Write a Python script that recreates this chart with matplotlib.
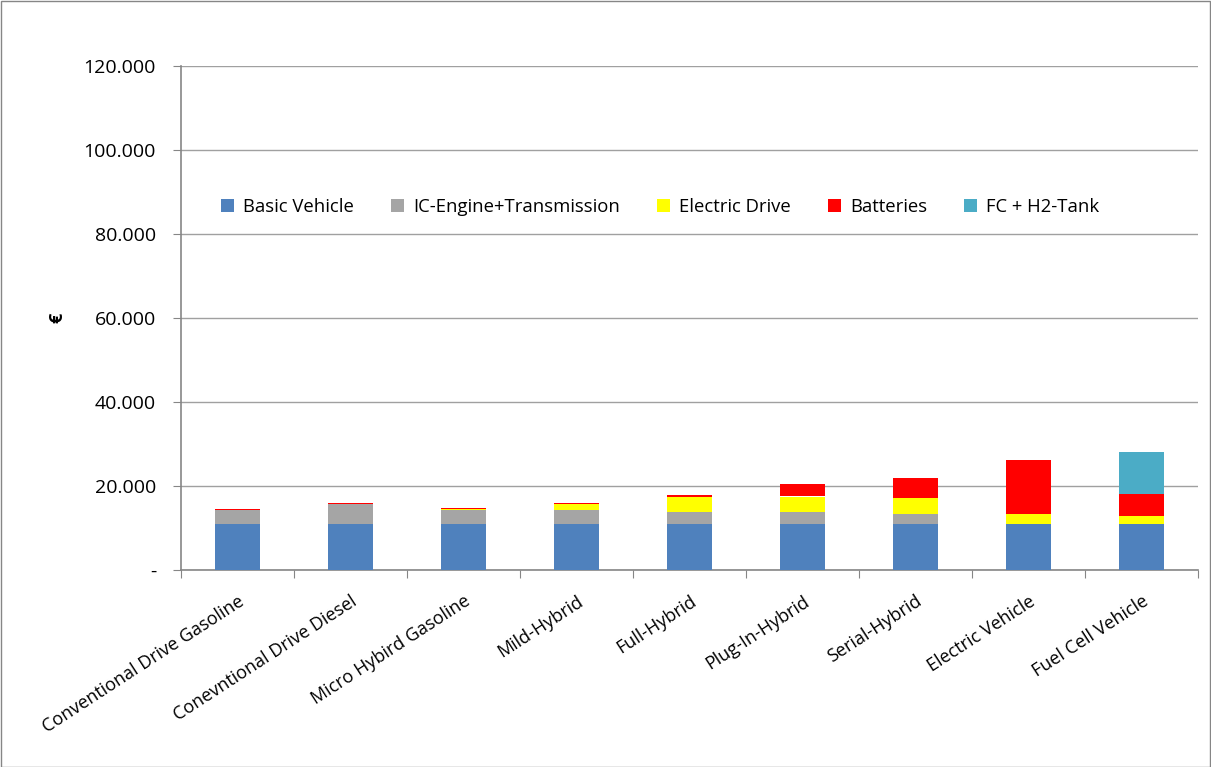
import numpy as np
import matplotlib.pyplot as plt
from matplotlib.ticker import FuncFormatter, MultipleLocator, FixedLocator

plt.rcParams['font.family'] = ['Open Sans', 'DejaVu Sans']

categories = ['Conventional Drive Gasoline', 'Conevntional Drive Diesel',
              'Micro Hybird Gasoline', 'Mild-Hybrid', 'Full-Hybrid',
              'Plug-In-Hybrid', 'Serial-Hybrid', 'Electric Vehicle',
              'Fuel Cell Vehicle']

basic_vehicle = [10900, 10900, 10900, 10900, 10900, 10900, 10900, 10900, 10900]
ic_engine = [3300, 4750, 3500, 3350, 2850, 2850, 2550, 0, 0]
electric_drive = [0, 0, 200, 1450, 3600, 3750, 3600, 2550, 1900]
batteries = [400, 350, 200, 330, 480, 2900, 4950, 12750, 5300]
fc_tank = [0, 0, 0, 0, 0, 0, 0, 0, 10000]

series = [
    ('Basic Vehicle', basic_vehicle, '#4f81bd'),
    ('IC-Engine+Transmission', ic_engine, '#a5a5a5'),
    ('Electric Drive', electric_drive, '#ffff00'),
    ('Batteries', batteries, '#ff0000'),
    ('FC + H2-Tank', fc_tank, '#4bacc6'),
]

fig = plt.figure(figsize=(12.11, 7.67), dpi=100)
ax = fig.add_axes([181 / 1211, 1 - 570 / 767, (1198 - 181) / 1211, (570 - 66) / 767])

x = np.arange(len(categories))
bottom = np.zeros(len(categories))
for name, vals, col in series:
    ax.bar(x, vals, 0.4, bottom=bottom, color=col, label=name,
           linewidth=0, zorder=3)
    bottom += np.array(vals)

ax.set_xlim(-0.5, len(categories) - 0.5)
ax.set_ylim(0, 120000)
ax.yaxis.set_major_locator(MultipleLocator(20000))


def fmt(v, pos):
    if v == 0:
        return '-'
    return '{:,.0f}'.format(v).replace(',', '.')


ax.yaxis.set_major_formatter(FuncFormatter(fmt))
ax.grid(axis='y', color='#a0a0a0', linewidth=1, zorder=0)
ax.set_axisbelow(True)

for s in ['top', 'right']:
    ax.spines[s].set_visible(False)
for s in ['left', 'bottom']:
    ax.spines[s].set_color('#868686')
    ax.spines[s].set_linewidth(1.2)

ax.tick_params(axis='y', length=6, color='#868686', labelsize=14, pad=12,
               labelcolor='#000000')
ax.xaxis.set_major_locator(FixedLocator(np.arange(-0.5, len(categories), 1)))
ax.xaxis.set_minor_locator(FixedLocator(x))
ax.tick_params(axis='x', which='major', length=6, color='#868686', labelbottom=False)
ax.tick_params(axis='x', which='minor', length=0, labelsize=13, pad=16)
ax.set_xticklabels(categories, minor=True, rotation=33, ha='right',
                   rotation_mode='anchor')

ax.set_ylabel('€', fontsize=13, fontweight='bold')
ax.yaxis.set_label_coords(-0.113, 0.5)

ax.legend(loc='center', bbox_to_anchor=(0.471, 0.72), ncol=5, frameon=False,
          fontsize=13.3, handlelength=0.7, handleheight=0.7, columnspacing=2.0,
          handletextpad=0.5)

fig.patches.append(plt.Rectangle((0.5 / 1211, 0.5 / 767), 1 - 1.5 / 1211, 1 - 1.5 / 767,
                                 transform=fig.transFigure, fill=False,
                                 edgecolor='#868686', linewidth=1))

fig.savefig('out.png', dpi=100)
